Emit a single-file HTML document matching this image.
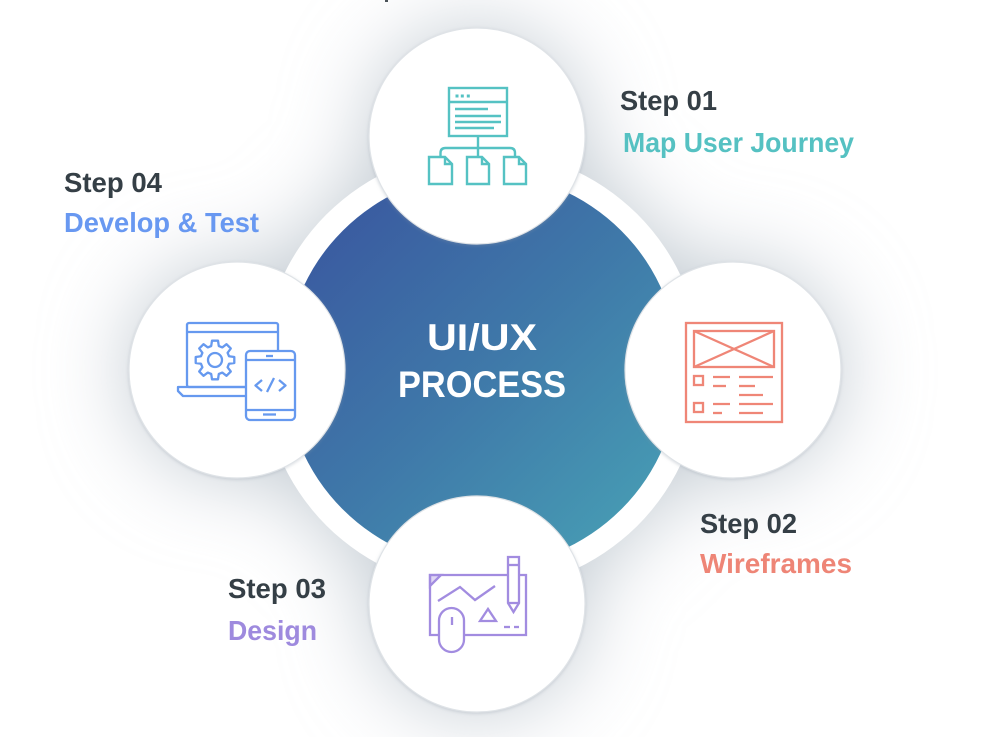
<!DOCTYPE html>
<html>
<head>
<meta charset="utf-8">
<style>
  html, body { margin: 0; padding: 0; background: #ffffff; }
  body { width: 982px; height: 737px; overflow: hidden; }
  svg { display: block; }
  text { font-family: "Liberation Sans", Arial, sans-serif; font-weight: bold; }
</style>
</head>
<body>
<svg width="982" height="737" viewBox="0 0 982 737" xmlns="http://www.w3.org/2000/svg">
  <defs>
    <filter id="sh" filterUnits="userSpaceOnUse" x="0" y="0" width="982" height="737">
      <feGaussianBlur stdDeviation="42"/>
    </filter>
    <linearGradient id="g" x1="330" y1="215" x2="640" y2="535" gradientUnits="userSpaceOnUse">
      <stop offset="0" stop-color="#3a5aa0"/>
      <stop offset="0.5" stop-color="#3f79a9"/>
      <stop offset="1" stop-color="#479db4"/>
    </linearGradient>
    <filter id="cs" x="-20%" y="-20%" width="140%" height="140%">
      <feDropShadow dx="0" dy="1" stdDeviation="1.5" flood-color="#8d99a6" flood-opacity="0.35"/>
    </filter>
  </defs>

  <rect width="982" height="737" fill="#ffffff"/>

  <!-- soft background shadow -->
  <g filter="url(#sh)" fill="#c2cad2">
    <circle cx="482" cy="370" r="222"/>
    <circle cx="477" cy="136" r="108"/>
    <circle cx="733" cy="370" r="108"/>
    <circle cx="477" cy="604" r="108"/>
    <circle cx="237" cy="370" r="108"/>
  </g>

  <!-- tiny mark at top edge -->
  <rect x="385" y="0" width="3" height="2" fill="#4a5258"/>

  <!-- ring + central circle -->
  <circle cx="482" cy="370" r="220" fill="#ffffff"/>
  <circle cx="482" cy="370" r="197" fill="url(#g)"/>

  <!-- small circles -->
  <g fill="#ffffff" stroke="#dfe3e7" stroke-width="1.2" filter="url(#cs)">
    <circle cx="477" cy="136" r="108"/>
    <circle cx="733" cy="370" r="108"/>
    <circle cx="477" cy="604" r="108"/>
    <circle cx="237" cy="370" r="108"/>
  </g>

  <!-- center text -->
  <text x="482" y="350" font-size="37" fill="#ffffff" text-anchor="middle" textLength="110" lengthAdjust="spacingAndGlyphs">UI/UX</text>
  <text x="482" y="397" font-size="37" fill="#ffffff" text-anchor="middle" textLength="168" lengthAdjust="spacingAndGlyphs">PROCESS</text>

  <!-- step labels -->
  <text x="620" y="110" font-size="28" fill="#353f46" textLength="97" lengthAdjust="spacingAndGlyphs">Step 01</text>
  <text x="623" y="152" font-size="28" fill="#55c1c2" textLength="231" lengthAdjust="spacingAndGlyphs">Map User Journey</text>

  <text x="64" y="192" font-size="28" fill="#353f46" textLength="98" lengthAdjust="spacingAndGlyphs">Step 04</text>
  <text x="64" y="232" font-size="28" fill="#6898f1" textLength="195" lengthAdjust="spacingAndGlyphs">Develop &amp; Test</text>

  <text x="700" y="533" font-size="28" fill="#353f46" textLength="97" lengthAdjust="spacingAndGlyphs">Step 02</text>
  <text x="700" y="573" font-size="28" fill="#ee8576" textLength="152" lengthAdjust="spacingAndGlyphs">Wireframes</text>

  <text x="228" y="598" font-size="28" fill="#353f46" textLength="98" lengthAdjust="spacingAndGlyphs">Step 03</text>
  <text x="228" y="640" font-size="28" fill="#9e8ade" textLength="89" lengthAdjust="spacingAndGlyphs">Design</text>

  <!-- TOP ICON: user journey -->
  <g stroke="#55c2c3" stroke-width="2.4" fill="none">
    <rect x="449" y="88" width="58" height="48"/>
    <line x1="449" y1="102" x2="507" y2="102"/>
    <line x1="455" y1="109" x2="488" y2="109"/>
    <line x1="455" y1="116" x2="501" y2="116"/>
    <line x1="455" y1="122" x2="501" y2="122"/>
    <line x1="455" y1="128" x2="494" y2="128"/>
    <line x1="478" y1="136" x2="478" y2="157"/>
    <path d="M440.5 157 L440.5 153 Q440.5 148 445.5 148 L510 148 Q515 148 515 153 L515 157"/>
    <path d="M429 157 L445 157 L452 164 L452 184 L429 184 Z M445 157 L445 164 L452 164"/>
    <path d="M467 157 L482 157 L489 164 L489 184 L467 184 Z M482 157 L482 164 L489 164"/>
    <path d="M504 157 L519 157 L526 164 L526 184 L504 184 Z M519 157 L519 164 L526 164"/>
  </g>
  <g fill="#55c2c3">
    <rect x="455.5" y="94.5" width="3" height="3"/>
    <rect x="460.8" y="94.5" width="3" height="3"/>
    <rect x="466.8" y="94.5" width="3" height="3"/>
  </g>

  <!-- RIGHT ICON: wireframes -->
  <g stroke="#ef8677" stroke-width="2.3" fill="none">
    <rect x="686" y="323" width="96" height="99"/>
    <rect x="694" y="331" width="80" height="36"/>
    <line x1="694" y1="331" x2="774" y2="367"/>
    <line x1="694" y1="367" x2="774" y2="331"/>
    <rect x="694" y="376" width="9" height="9"/>
    <rect x="694" y="403" width="9" height="9"/>
    <line x1="713" y1="377" x2="730" y2="377"/>
    <line x1="713" y1="386" x2="726" y2="386"/>
    <line x1="739" y1="377" x2="773" y2="377"/>
    <line x1="739" y1="386" x2="755" y2="386"/>
    <line x1="739" y1="395" x2="763" y2="395"/>
    <line x1="713" y1="404" x2="730" y2="404"/>
    <line x1="713" y1="413" x2="722" y2="413"/>
    <line x1="739" y1="404" x2="773" y2="404"/>
    <line x1="739" y1="413" x2="763" y2="413"/>
  </g>

  <!-- BOTTOM ICON: design -->
  <g stroke="#a28ce0" stroke-width="2.3" fill="none">
    <path d="M508 575 L430 575 L430 635 L526 635 L526 575 L519 575"/>
    <path d="M430 575 L441 575 L430 586 Z" fill="#a28ce0" fill-opacity="0.35"/>
    <polyline points="438,601 460,587 475,600 495,586"/>
    <polygon points="480,621 488,609 496,621"/>
    <line x1="504" y1="627" x2="510" y2="627"/>
    <line x1="514" y1="627" x2="519" y2="627"/>
    <path d="M508 557 L519 557 L519 603 L513.5 612 L508 603 Z" fill="#ffffff"/>
    <line x1="508" y1="565" x2="519" y2="565"/>
    <line x1="508" y1="603" x2="519" y2="603"/>
    <rect x="439" y="608" width="25" height="44" rx="12.5" fill="#ffffff"/>
    <line x1="452" y1="617" x2="452" y2="625"/>
  </g>

  <!-- LEFT ICON: develop & test -->
  <g stroke="#6699ef" stroke-width="2.3" fill="none" stroke-linejoin="round">
    <rect x="187" y="323" width="91" height="64" rx="2"/>
    <line x1="187" y1="332" x2="278" y2="332"/>
    <path d="M247 387 L178 387 L178 391 L183 396 L247 396"/>
    <polygon points="229.0,356.2 234.3,357.0 234.3,363.0 229.0,363.8 227.6,367.3 230.8,371.5 226.5,375.8 222.3,372.6 218.8,374.0 218.0,379.3 212.0,379.3 211.2,374.0 207.8,372.6 203.5,375.8 199.2,371.5 202.4,367.3 201.0,363.8 195.7,363.0 195.7,357.0 201.0,356.2 202.4,352.8 199.2,348.5 203.5,344.2 207.8,347.4 211.2,346.0 212.0,340.7 218.0,340.7 218.8,346.0 222.3,347.4 226.5,344.2 230.8,348.5 227.6,352.8"/>
    <circle cx="215" cy="360" r="7"/>
    <rect x="246" y="351" width="49" height="69" rx="4" fill="#ffffff"/>
    <line x1="246" y1="360" x2="295" y2="360"/>
    <line x1="246" y1="410" x2="295" y2="410"/>
    <line x1="266" y1="356" x2="273" y2="356"/>
    <line x1="263" y1="414.5" x2="276" y2="414.5"/>
    <polyline points="262,380 255.5,385.5 262,391"/>
    <line x1="267" y1="392" x2="274" y2="378"/>
    <polyline points="279,380 285.5,385.5 279,391"/>
  </g>
</svg>
</body>
</html>
